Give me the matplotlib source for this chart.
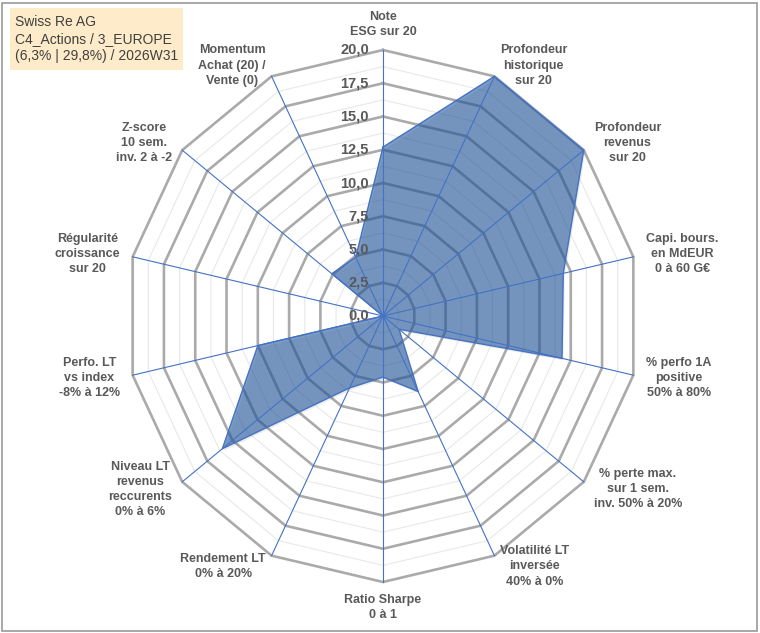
import numpy as np
import matplotlib
matplotlib.use("Agg")
import matplotlib.pyplot as plt
from matplotlib.patches import Rectangle

plt.rcParams['font.family'] = ['Liberation Sans', 'DejaVu Sans']

# --- data -------------------------------------------------------------
categories = [
    "Note\nESG sur 20",
    "Profondeur\nhistorique\nsur 20",
    "Profondeur\nrevenus\nsur 20",
    "Capi. bours.\nen MdEUR\n0 à 60 G€",
    "% perfo 1A\npositive\n50% à 80%",
    "% perte max.\nsur 1 sem.\ninv. 50% à 20%",
    "Volatilité LT\ninversée\n40% à 0%",
    "Ratio Sharpe\n0 à 1",
    "Rendement LT\n0% à 20%",
    "Niveau LT\nrevenus\nreccurents\n0% à 6%",
    "Perfo. LT\nvs index\n-8% à 12%",
    "Régularité\ncroissance\nsur 20",
    "Z-score\n10 sem.\ninv. 2 à -2",
    "Momentum\nAchat (20) /\nVente (0)",
]
scores = [12.7, 20.0, 20.0, 14.4, 14.3, 1.6, 6.3, 4.6, 6.0, 16.0, 10.0, 0.0, 5.1, 4.9]
ticks = [0.0, 2.5, 5.0, 7.5, 10.0, 12.5, 15.0, 17.5, 20.0]
title_lines = ["Swiss Re AG", "C4_Actions / 3_EUROPE", "(6,3% | 29,8%) / 2026W31"]

rmax = 20.0
n = len(categories)
theta = 2 * np.pi * np.arange(n) / n
sx, sy = np.sin(theta), np.cos(theta)

fig = plt.figure(figsize=(7.6, 6.33), dpi=100)
ax = fig.add_axes([0, 0, 1, 1])
# center at (383, 316) px, 13.3 px/unit vertically, 12.84 horizontally
ax.set_xlim(-383 / 12.84, 377 / 12.84)
ax.set_ylim(-317 / 13.3, 316 / 13.3)
ax.axis("off")

# grid rings (polygons)
for r in np.arange(1.25, rmax + 0.01, 1.25):
    xs = np.append(r * sx, r * sx[0])
    ys = np.append(r * sy, r * sy[0])
    if abs(r / 2.5 - round(r / 2.5)) < 1e-6:
        ax.plot(xs, ys, color="#AAAAAA", lw=1.9, zorder=1, solid_joinstyle="miter")
    else:
        ax.plot(xs, ys, color="#E8E8E8", lw=0.8, zorder=1)

# filled series
vals = np.array(scores)
px = np.append(vals * sx, vals[0] * sx[0])
py = np.append(vals * sy, vals[0] * sy[0])
ax.fill(px + 0.12, py - 0.15, color="#000000", alpha=0.08, lw=0, zorder=2)
ax.fill(px, py, color="#1E569E", alpha=0.58, lw=0, zorder=2)
ax.plot(px, py, color="#4472C4", lw=1.0, zorder=4)

# spokes
for i in range(n):
    ax.plot([0, rmax * sx[i]], [0, rmax * sy[i]], color="#4472C4", lw=0.8, zorder=3)

# radial tick labels
for t in ticks:
    ax.text(-1.1, t, f"{t:.1f}".replace(".", ","), ha="right", va="center",
            fontsize=10.5, fontweight="bold", color="#595959", zorder=5)

# category labels
for i, lab in enumerate(categories):
    s, c = sx[i], sy[i]
    if abs(s) < 0.1:
        y = 20.9 if c > 0 else -20.9
        ax.text(0, y, lab, ha="center", va="bottom" if c > 0 else "top",
                multialignment="center", fontsize=9, fontweight="bold",
                color="#595959", linespacing=1.35)
    else:
        ha = "left" if s > 0 else "right"
        ax.text(21.0 * s, 20.9 * c, lab, ha=ha, va="center",
                multialignment="center", fontsize=9, fontweight="bold",
                color="#595959", linespacing=1.35)

# title box
fig.patches.append(Rectangle((10 / 760, 1 - 70 / 633), 173 / 760, 62 / 633,
                             transform=fig.transFigure, facecolor="#FDEBC9",
                             edgecolor="none", zorder=0))
fig.text(15 / 760, 1 - 39 / 633, "\n".join(title_lines), ha="left", va="center",
         fontsize=10, color="#404040", linespacing=1.3)

# outer frame
fig.patches.append(Rectangle((2 / 760, 2 / 633), 755 / 760, 628 / 633,
                             transform=fig.transFigure, facecolor="none",
                             edgecolor="#9A9A9A", lw=1.2))

fig.savefig("out.png", dpi=100)
